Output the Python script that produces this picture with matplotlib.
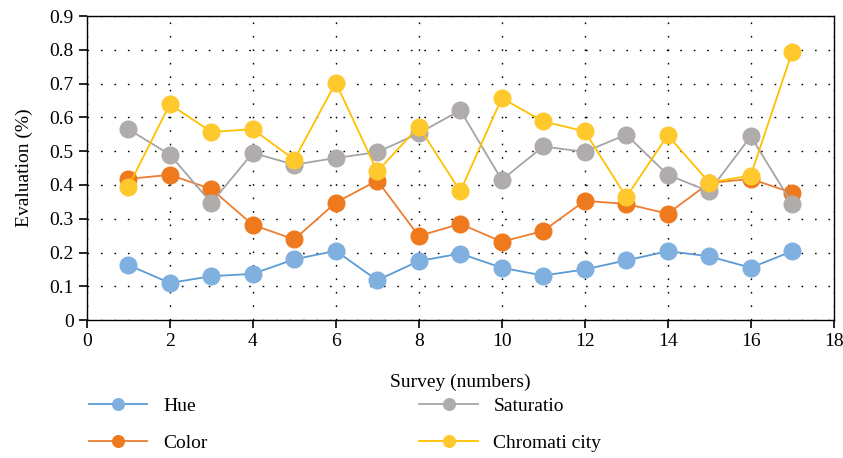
import numpy as np
import matplotlib
matplotlib.use("Agg")
import matplotlib.pyplot as plt

plt.rcParams['font.family'] = ['Liberation Serif', 'DejaVu Serif']

survey = list(range(1, 18))
hue = [0.163, 0.110, 0.130, 0.137, 0.180, 0.205, 0.118, 0.175, 0.197,
       0.155, 0.132, 0.150, 0.177, 0.204, 0.189, 0.155, 0.204]
color = [0.418, 0.430, 0.388, 0.282, 0.239, 0.348, 0.413, 0.249, 0.285,
         0.232, 0.264, 0.353, 0.344, 0.315, 0.406, 0.418, 0.377]
saturatio = [0.565, 0.490, 0.347, 0.495, 0.460, 0.480, 0.497, 0.553, 0.621,
             0.415, 0.514, 0.498, 0.549, 0.430, 0.381, 0.544, 0.344]
chromati = [0.395, 0.639, 0.557, 0.565, 0.475, 0.703, 0.440, 0.573, 0.381,
            0.657, 0.588, 0.559, 0.364, 0.547, 0.407, 0.428, 0.794]

series = [("Hue", hue, "#5B9BD5", "#7FB0E0"),
          ("Color", color, "#ED7D31", "#EF7A1E"),
          ("Saturatio", saturatio, "#A5A5A5", "#B0ACAC"),
          ("Chromati city", chromati, "#FFC000", "#FFC92E")]

fig = plt.figure(figsize=(8.43, 4.58), dpi=100)
ax = fig.add_axes([0.103, 0.301, 0.886, 0.664])

for name, vals, lc, mc in series:
    ax.plot(survey, vals, color=lc, lw=1.3, label=name,
            marker='o', markersize=12, markerfacecolor=mc, markeredgecolor=mc)

ax.set_xlim(0, 18)
ax.set_ylim(0, 0.9)
ax.set_xticks(range(0, 19, 2))
ax.set_yticks(np.arange(0, 0.91, 0.1))
ax.set_yticklabels(["0"] + ["%.1f" % v for v in np.arange(0.1, 0.91, 0.1)])
ax.grid(True, linestyle=(0, (1.2, 8.5)), color='black', lw=1.0)
ax.tick_params(direction='out', length=6, width=1.2, labelsize=14, colors='black')
for s in ax.spines.values():
    s.set_linewidth(1.0)
ax.set_xlabel("Survey (numbers)", fontsize=14, labelpad=17)
ax.set_ylabel("Evaluation (%)", fontsize=14, labelpad=12)

fig.legend(loc='lower left', bbox_to_anchor=(0.085, -0.025), ncol=2, frameon=False,
           fontsize=14, markerscale=0.7, handlelength=3.0, columnspacing=10.9,
           labelspacing=1.0)

fig.savefig("out.png", dpi=100)
